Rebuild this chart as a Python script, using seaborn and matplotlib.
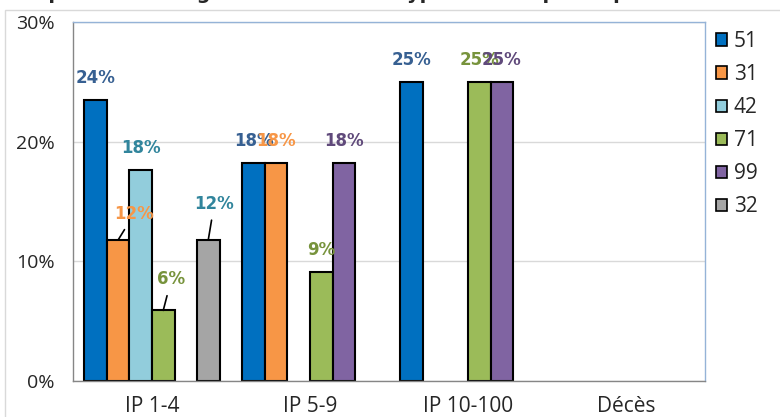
import numpy as np
import pandas as pd
import seaborn as sns
import matplotlib
import matplotlib.pyplot as plt
from matplotlib.patches import Patch, Rectangle
from matplotlib.ticker import PercentFormatter, FixedLocator
from matplotlib.colors import to_rgb

matplotlib.use('Agg')

# data (percent of each departement, by gravity class)
categories = ['IP 1-4', 'IP 5-9', 'IP 10-100', 'Décès']
depts = ['51', '31', '42', '71', '99', '32']
pct_51 = [23.5, 18.2, 25.0, None]
pct_31 = [11.8, 18.2, None, None]
pct_42 = [17.6, None, None, None]
pct_71 = [5.9, 9.1, 25.0, None]
pct_99 = [None, 18.2, 25.0, None]
pct_32 = [11.8, None, None, None]

bar_colors = ['#0070C0', '#F79646', '#92CDDC', '#9BBB59', '#8064A2', '#A5A5A5']
label_colors = ['#376092', '#F79646', '#31859C', '#77933C', '#604A7B', '#31859C']
title = "Répartition des gravités selon les types d'IP et par département d'origine (%)"

rows = []
for d, vals in zip(depts, [pct_51, pct_31, pct_42, pct_71, pct_99, pct_32]):
    for c, v in zip(categories, vals):
        if v is not None:
            rows.append({'gravite': c, 'dept': d, 'pct': v})
df = pd.DataFrame(rows)

sns.set_style('white')
plt.rcParams['font.family'] = ['DejaVu Sans']

fig = plt.figure(figsize=(7.8, 4.17), dpi=100)
ax = fig.add_axes([73 / 780, 1 - 381 / 417, (705 - 73) / 780, (381 - 22) / 417])

sns.barplot(data=df, x='gravite', y='pct', hue='dept', order=categories,
            hue_order=depts, palette=bar_colors, saturation=1, width=0.855,
            edgecolor='black', linewidth=1.5, errorbar=None, ax=ax)
if ax.get_legend() is not None:
    ax.get_legend().remove()

# labels above bars; a few are moved aside with a leader line (pixels)
moved = {('IP 1-4', '31'): (16, 26), ('IP 1-4', '71'): (8, 31), ('IP 1-4', '32'): (6, 36)}
rgb_list = [np.array(to_rgb(c)) for c in bar_colors]
for p in ax.patches:
    h = p.get_height()
    if not np.isfinite(h) or h <= 0:
        continue
    fc = np.array(p.get_facecolor()[:3])
    k = int(np.argmin([np.abs(fc - r).sum() for r in rgb_list]))
    xc = p.get_x() + p.get_width() / 2
    cat = categories[int(round(xc))]
    key = (cat, depts[k])
    txt = f'{round(h):.0f}%'
    if key in moved:
        dx, dy = moved[key]
        ax.annotate(txt, xy=(xc, h), xytext=(dx, dy), textcoords='offset pixels',
                    ha='center', va='center', fontsize=12, fontweight='bold',
                    color=label_colors[k],
                    arrowprops=dict(arrowstyle='-', color='black', lw=1.2,
                                    shrinkA=3, shrinkB=0))
    else:
        ax.annotate(txt, xy=(xc, h), xytext=(0, 22), textcoords='offset pixels',
                    ha='center', va='center', fontsize=12, fontweight='bold',
                    color=label_colors[k])

ax.set_ylim(0, 30)
ax.set_xlim(-0.5, 3.5)
ax.set_yticks([0, 10, 20, 30])
ax.yaxis.set_major_formatter(PercentFormatter(decimals=0))
ax.set_xlabel('')
ax.set_ylabel('')
ax.yaxis.grid(True, color='#D9D9D9', lw=1)
ax.set_axisbelow(True)

ax.xaxis.set_minor_locator(FixedLocator([-0.5, 0.5, 1.5, 2.5, 3.5]))
ax.tick_params(axis='x', which='major', length=0, labelsize=15, pad=11)
ax.tick_params(axis='x', which='minor', length=6, color='#868686', width=1, direction='out')
ax.tick_params(axis='y', length=5, color='#868686', width=1, labelsize=14, direction='out', pad=8)
for lab in ax.get_xticklabels() + ax.get_yticklabels():
    lab.set_family('Open Sans')

ax.spines['left'].set_color('#868686')
ax.spines['bottom'].set_color('#868686')
ax.spines['top'].set_color('#95B3D7')
ax.spines['right'].set_color('#95B3D7')
for s in ax.spines.values():
    s.set_linewidth(1)

handles = [Patch(facecolor=c, edgecolor='black', lw=1.2) for c in bar_colors]
fig.legend(handles, depts, loc='upper left', bbox_to_anchor=(716 / 780, 1 - 31 / 417),
           frameon=False, handlelength=0.55, handleheight=0.55,
           handletextpad=0.3, labelspacing=0.58, borderaxespad=0, borderpad=0,
           prop={'family': 'Open Sans', 'size': 15})

# outer chart frame and clipped title
fig.patches.append(Rectangle((5 / 780, -0.1), 1.1, 1.1 - 10 / 417, transform=fig.transFigure,
                             fill=False, edgecolor='#D9D9D9', lw=1, zorder=0))
fig.text(20 / 780, 1 + 1 / 417, title, fontsize=14, fontweight='bold', ha='left', va='baseline')

fig.savefig('out.png', dpi=100)
